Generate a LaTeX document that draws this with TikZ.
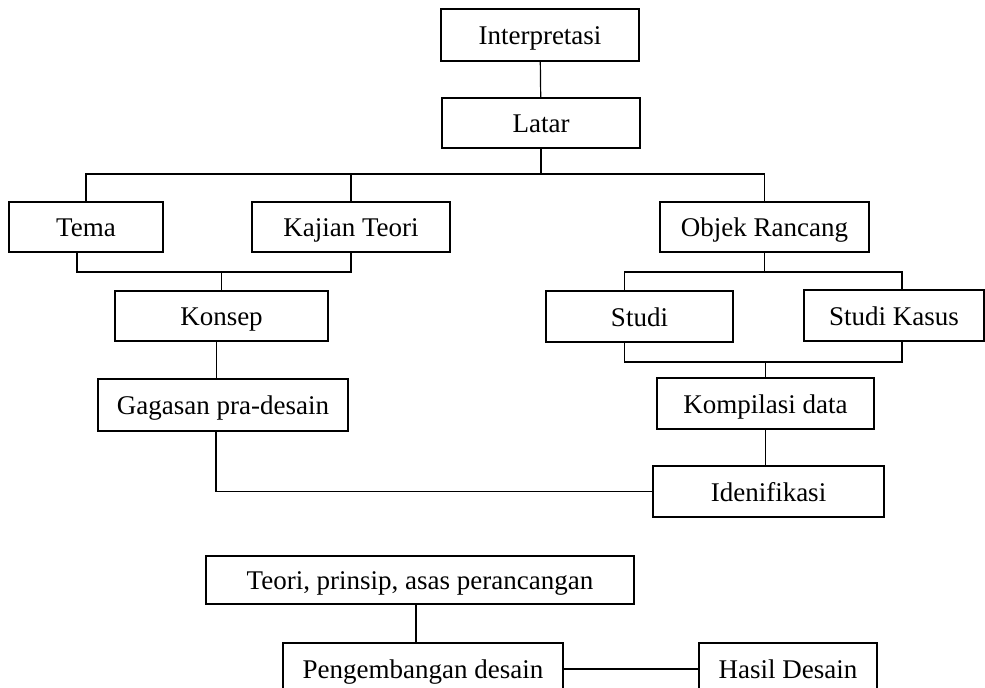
\documentclass[tikz,border=0pt]{standalone}
\usepackage{fontspec}
\setmainfont{Liberation Serif}
\usepackage{tikz}
\usetikzlibrary{calc}
\usetikzlibrary{positioning}

\begin{document}
\begin{tikzpicture}[x=0.5pt, y=-0.5pt, line width=0.6pt,
        kotak/.style={draw, rectangle, inner sep=0pt, minimum height=25pt,
                text height=10pt, text depth=0pt,
                font=\fontsize{13.5pt}{15pt}\selectfont}]
        \useasboundingbox (0,0) rectangle (985,688);
        \node[kotak, minimum width=99pt, minimum height=26pt] (interp) at (540,35) {Interpretasi};
        \node[kotak, minimum width=99pt] (latar) at (541,123) {Latar};
        \node[kotak, minimum width=77pt] (tema) at (86,227) {Tema};
        \node[kotak, minimum width=99pt] (kajian) at (351,227) {Kajian Teori};
        \node[kotak, minimum width=104.5pt] (objek) at (764.5,227) {Objek Rancang};
        \node[kotak, minimum width=106.5pt] (konsep) at (221.5,316) {Konsep};
        \node[kotak, minimum width=125pt, minimum height=26pt] (gagasan) at (223,405) {Gagasan pra-desain};
        \node[kotak, minimum width=93.5pt, minimum height=25.5pt] (studi) at (639.5,316.5) {Studi};
        \node[kotak, minimum width=90pt, minimum height=25.5pt] (kasus) at (894,315.5) {Studi Kasus};
        \node[kotak, minimum width=108.5pt, minimum height=25.5pt] (kompilasi) at (765.5,403.5) {Kompilasi data};
        \node[kotak, minimum width=115.5pt, minimum height=25.5pt] (idenif) at (768.5,491.5) {Idenifikasi};
        \node[kotak, minimum width=214pt, minimum height=24pt] (teori) at (420,580) {Teori, prinsip, asas perancangan};
        \node[kotak, minimum width=140pt, minimum height=26pt] (pengemb) at (423,669) {Pengembangan desain};
        \node[kotak, minimum width=89pt, minimum height=26pt] (hasil) at (788,669) {Hasil Desain};

        \coordinate (busA) at (0,174);
        \coordinate (busB) at (0,272);
        \coordinate (busD) at (0,362);

        \draw (interp) -- (latar);
        \draw (latar) -- (latar.south |- busA);
        \draw (tema.north) |- (latar.south |- busA) -| (objek.north);
        \draw (kajian) -- (kajian.north |- busA);

        \draw ([xshift=-4.5pt]tema.south) |- (konsep.north |- busB) -| (kajian.south);
        \draw (konsep) -- (konsep.north |- busB);
        \draw ([xshift=-2.5pt]konsep.south) -- ([xshift=-2.5pt]konsep.south |- gagasan.north);
        \draw ([xshift=-3.5pt]gagasan.south) |- (idenif.west);

        \draw ([xshift=-7.5pt]studi.north) |- (objek.south |- busB) -| ([xshift=4pt]kasus.north);
        \draw (objek) -- (objek.south |- busB);
        \draw ([xshift=-7.5pt]studi.south) |- (kompilasi.north |- busD) -| ([xshift=4pt]kasus.south);
        \draw (kompilasi) -- (kompilasi.north |- busD);
        \draw (kompilasi) -- (kompilasi |- idenif.north);

        \draw ([xshift=-2pt]teori.south) -- ([xshift=-2pt]teori.south |- pengemb.north);
        \draw (pengemb) -- (hasil);
    \end{tikzpicture}
\end{document}
